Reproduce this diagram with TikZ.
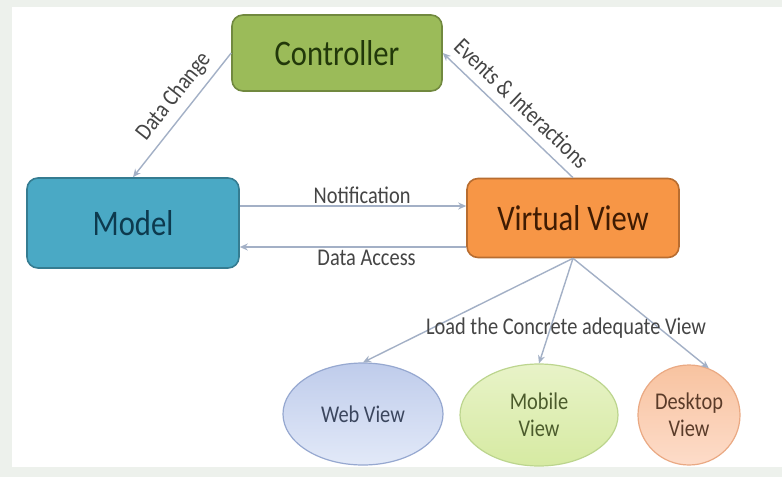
\documentclass[tikz,border=0pt]{standalone}
\usepackage{fontspec}
\setmainfont{Carlito}[FakeStretch=0.85]
\usetikzlibrary{shapes.geometric,arrows.meta}
\definecolor{bgstrip}{HTML}{EDF1EC}
\definecolor{ctrlfill}{HTML}{9BBB59}
\definecolor{ctrldraw}{HTML}{71893F}
\definecolor{ctrltext}{HTML}{22380A}
\definecolor{modfill}{HTML}{4AA9C5}
\definecolor{moddraw}{HTML}{357C91}
\definecolor{modtext}{HTML}{0D3A4E}
\definecolor{vvfill}{HTML}{F79646}
\definecolor{vvdraw}{HTML}{B86D30}
\definecolor{vvtext}{HTML}{3F1B02}
\definecolor{arrowc}{HTML}{A3B0C6}
\definecolor{labtext}{HTML}{454545}
\definecolor{webtop}{HTML}{BFCCEB}
\definecolor{webbot}{HTML}{E2E9F8}
\definecolor{webdraw}{HTML}{96A8D0}
\definecolor{webtext}{HTML}{3B465E}
\definecolor{mobtop}{HTML}{E8F3C8}
\definecolor{mobbot}{HTML}{D6EAA2}
\definecolor{mobdraw}{HTML}{BCD58E}
\definecolor{mobtext}{HTML}{4B5B2C}
\definecolor{desktop}{HTML}{F8C3A0}
\definecolor{deskbot}{HTML}{FDDCC9}
\definecolor{deskdraw}{HTML}{EAA983}
\definecolor{desktext}{HTML}{5A3B29}
\tikzset{
  x=1pt, y=-1pt,
  bigbox/.style={rectangle, rounded corners=11pt, line width=1.6pt, inner sep=0pt,
    font=\fontsize{36}{40}\selectfont},
  viewell/.style={ellipse, line width=1.2pt, inner sep=0pt, align=center,
    font=\fontsize{24}{27}\selectfont},
  conn/.style={draw=arrowc, line width=1.4pt, -{Stealth[length=8pt,width=7pt]}},
  elab/.style={font=\fontsize{24}{26}\selectfont, text=labtext},
}
\begin{document}
\begin{tikzpicture}
\fill[bgstrip] (0,0) rectangle (782,477);
\fill[white] (12,7) rectangle (782,467);
\useasboundingbox (0,0) rectangle (782,477);

\node[bigbox, fill=ctrlfill, draw=ctrldraw, text=ctrltext, minimum width=210pt, minimum height=76pt] (ctrl) at (337,53) {Controller};
\node[bigbox, fill=modfill, draw=moddraw, text=modtext, minimum width=212pt, minimum height=90pt] (model) at (133,223) {Model};
\node[bigbox, fill=vvfill, draw=vvdraw, text=vvtext, minimum width=212pt, minimum height=79pt] (vv) at (573,218) {Virtual View};

\node[viewell, top color=webtop, bottom color=webbot, draw=webdraw, text=webtext, minimum width=160pt, minimum height=102pt] (web) at (363,414) {Web View};
\node[viewell, top color=mobtop, bottom color=mobbot, draw=mobdraw, text=mobtext, minimum width=158pt, minimum height=102pt] (mob) at (539,415) {Mobile\\View};
\node[viewell, top color=desktop, bottom color=deskbot, draw=deskdraw, text=desktext, minimum width=102pt, minimum height=100pt] (desk) at (689,415) {Desktop\\View};

\draw[conn] (ctrl.west) -- node[elab, sloped, above, pos=0.44, inner sep=7pt] {Data Change} (model.north);
\draw[conn] (vv.north) -- node[elab, sloped, above, pos=0.49, inner sep=9pt] {Events \& Interactions} (ctrl.east);
\draw[conn] (model.east |- 0,206) -- node[elab, above, pos=0.54, inner sep=1.5pt] {Notification} (vv.west |- 0,206);
\draw[conn] (vv.west |- 0,247) -- node[elab, below, pos=0.44, inner sep=2.5pt] {Data Access} (model.east |- 0,247);

\draw[conn] (vv.south) -- (web.north);
\draw[conn] (vv.south) -- (mob.north);
\draw[conn] (vv.south) -- (desk.67);
\node[elab, fill=white, fill opacity=0, text opacity=1] (load) at (566,328) {Load the Concrete adequate View};
\end{tikzpicture}
\end{document}
